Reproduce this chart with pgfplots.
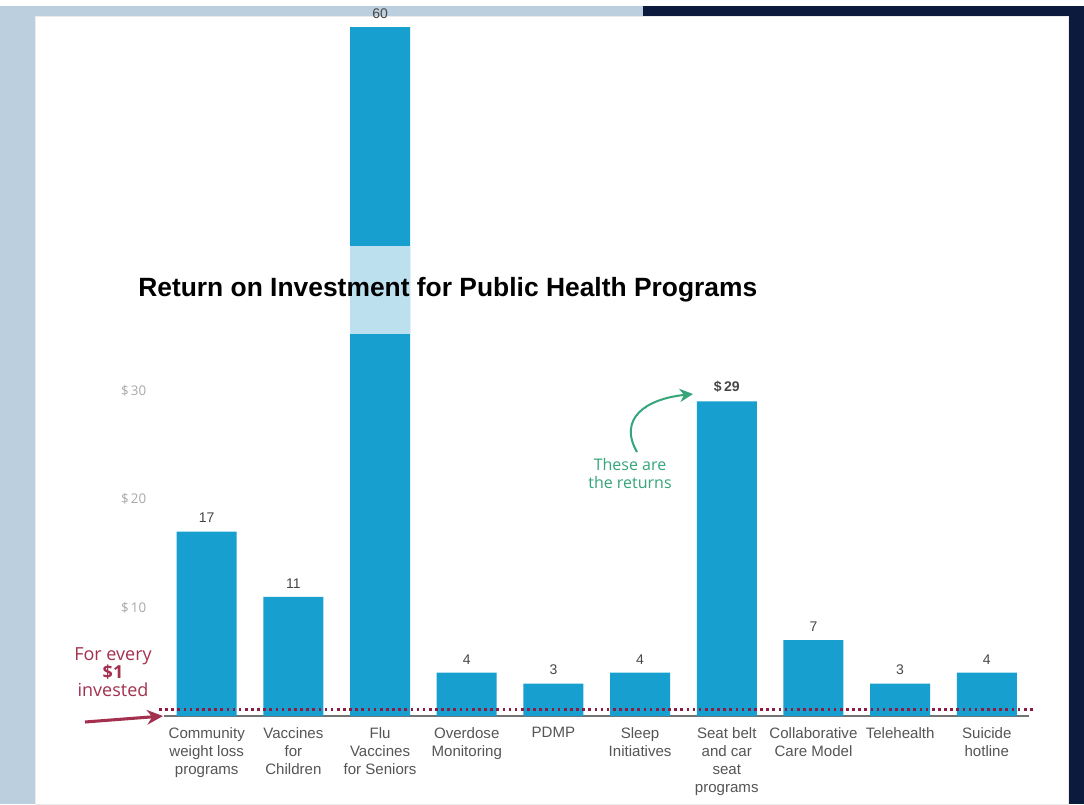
\documentclass[border=0pt]{standalone}
\usepackage{fontspec}
\setmainfont{Liberation Sans}
\newfontfamily\opensans{Open Sans}
\usepackage{pgfplots}
\pgfplotsset{compat=1.18}
\usetikzlibrary{arrows.meta}

\definecolor{bgleft}{HTML}{BCCFDF}
\definecolor{bgnavy}{HTML}{0C1A3D}
\definecolor{barblue}{HTML}{179FD0}
\definecolor{bandblue}{HTML}{BDE0EE}
\definecolor{crimson}{HTML}{A3304F}
\definecolor{dotred}{HTML}{8E1B42}
\definecolor{notegreen}{HTML}{35A57A}
\definecolor{labelgray}{HTML}{555555}
\definecolor{tickgray}{HTML}{A8A8A8}

\begin{document}
\begin{tikzpicture}[x=0.75pt,y=0.75pt]
  % backdrop and white card (1 unit = 1 px of the reference, y up)
  \fill[bgleft] (0,0) rectangle (1084,798);
  \fill[bgnavy] (643,0) rectangle (1084,798);
  \fill[white, draw=black!8] (35,0) rectangle (1068,788);

  \begin{axis}[
    at={(189.5,81)}, anchor=south west,
    scale only axis,
    width=648.75pt, height=537.1pt,
    xmin=-0.49, xmax=9.49,
    ymin=0, ymax=66,
    clip=false,
    axis x line*=bottom, axis y line*=left,
    y axis line style={draw=none},
    x axis line style={draw=black!55, line width=1.5pt, -},
    major tick length=0pt,
    ytick={10,20,30},
    yticklabels={\$\,10,\$\,20,\$\,30},
    yticklabel style={text=tickgray, font=\opensans\fontsize{10}{11}\selectfont, xshift=-10pt},
    xtick={0,...,9},
    xticklabels={Community\\weight loss\\programs, Vaccines\\for\\Children,
      Flu\\Vaccines\\for Seniors, Overdose\\Monitoring, PDMP,
      Sleep\\Initiatives, Seat belt\\and car\\seat\\programs,
      Collaborative\\Care Model, Telehealth, Suicide\\hotline},
    xticklabel style={text=labelgray, align=center, anchor=north,
      font=\fontsize{11.3}{13.5}\selectfont, yshift=-5pt},
  ]
    \addplot[ybar, bar width=45pt, fill=barblue, draw=none,
      nodes near coords, point meta=explicit symbolic,
      nodes near coords style={text=black!72, font=\fontsize{10.5}{12}\selectfont, yshift=3pt}]
      coordinates {(0,17)[17] (1,11)[11] (2,63.5)[60] (3,4)[4] (4,3)[3]
                   (5,4)[4] (6,29)[\textbf{\$\,29}] (7,7)[7] (8,3)[3] (9,4)[4]};
    % break band on the flu bar
    \fill[bandblue] (axis cs:1.654,35.2) rectangle (axis cs:2.346,43.3);
    % the $1 reference line
    \draw[dotred, line width=2.2pt, dash pattern=on 2pt off 2.6pt]
      (axis cs:-0.55,0.65) -- (axis cs:9.55,0.65);
  \end{axis}

  % title
  \node[anchor=west, inner sep=0pt, font=\bfseries\fontsize{19.8}{22}\selectfont]
    at (138,514) {Return on Investment for Public Health Programs};

  % left note
  \node[align=center, text=crimson, font=\opensans\fontsize{13.5}{13.5}\selectfont]
    at (113,132) {For every\\\textbf{\$1}\\invested};
  \draw[crimson, line width=2.3pt, -{Stealth[length=12pt,width=11pt]}]
    (85,82) -- (163,88);

  % right note
  \node[align=center, text=notegreen, font=\opensans\fontsize{12}{13.5}\selectfont]
    at (630,331) {These are\\the returns};
  \draw[notegreen, line width=1.5pt, -{Stealth[length=10pt,width=10pt]}]
    (637,352) .. controls (618,385) and (645,405) .. (693,410);
\end{tikzpicture}
\end{document}
